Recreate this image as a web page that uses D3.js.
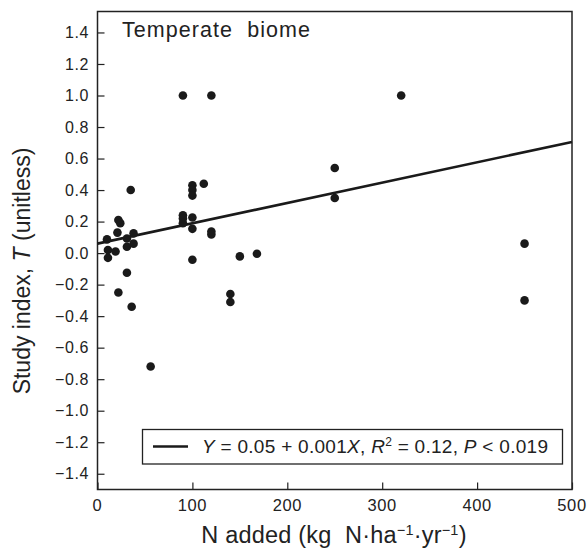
<!DOCTYPE html>
<html><head><meta charset="utf-8">
<script src="https://cdn.jsdelivr.net/npm/d3@7"></script>
<style>
body{margin:0;background:#fff;}
text{font-family:"Liberation Sans",Arial,Helvetica,sans-serif;fill:#222;}
</style></head>
<body><svg id="chart" width="588" height="548"></svg>
<script>
// Data
const nAdded = [35,22,24,21,38,10,31,38,31,11,19,11,31,22,36,56,
  90,120,100,112,100,100,90,90,90,100,100,120,120,100,150,168,140,140,
  320,250,250,450,450];
const studyIndex = [0.40,0.21,0.19,0.13,0.125,0.087,0.093,0.06,0.04,0.02,0.01,-0.03,-0.125,-0.25,-0.34,-0.72,
  1.0,1.0,0.43,0.44,0.40,0.365,0.24,0.22,0.19,0.226,0.154,0.137,0.118,-0.042,-0.021,-0.004,-0.26,-0.31,
  1.0,0.54,0.35,0.06,-0.30];
const fitX = [0,500];
const fitY = [0.06,0.705];
const xTicks = [0,100,200,300,400,500];
const yTicks = [1.4,1.2,1.0,0.8,0.6,0.4,0.2,0.0,-0.2,-0.4,-0.6,-0.8,-1.0,-1.2,-1.4];

const svg = d3.select("#chart");
const L=97.5, R=572, T=11.5, B=489.5;
const x = d3.scaleLinear().domain([0,500]).range([L,R]);
const y = d3.scaleLinear().domain([-1.5,1.533]).range([B,T]);
const ink="#222";

// frame
svg.append("rect").attr("x",L).attr("y",T).attr("width",R-L).attr("height",B-T)
  .attr("fill","none").attr("stroke",ink).attr("stroke-width",1.5);

// y axis
const fmtY = d => (d<0?"\u2212":"") + Math.abs(d).toFixed(1);
const ya = svg.append("g").attr("transform",`translate(${L},0)`)
  .call(d3.axisRight(y).tickValues(yTicks).tickSize(7).tickFormat(""));
ya.select(".domain").remove();
ya.selectAll("line").attr("stroke",ink).attr("stroke-width",1.2);
svg.append("g").selectAll("text").data(yTicks).join("text")
  .attr("x",89).attr("y",d=>y(d)+5.6).attr("text-anchor","end")
  .attr("font-size",16).attr("letter-spacing",0.6).text(fmtY);

// x axis
const xa = svg.append("g").attr("transform",`translate(0,${B})`)
  .call(d3.axisTop(x).tickValues(xTicks).tickSize(7).tickFormat(""));
xa.select(".domain").remove();
xa.selectAll("line").attr("stroke",ink).attr("stroke-width",1.2);
svg.append("g").selectAll("text").data(xTicks).join("text")
  .attr("x",d=>x(d)).attr("y",511).attr("text-anchor","middle")
  .attr("font-size",16.5).attr("letter-spacing",0.6).text(d=>d);

// fit line
svg.append("line").attr("x1",x(fitX[0])).attr("y1",y(fitY[0]))
  .attr("x2",x(fitX[1])).attr("y2",y(fitY[1]))
  .attr("stroke","#1a1a1a").attr("stroke-width",2.6);

// points
svg.append("g").selectAll("circle").data(nAdded.map((v,i)=>[v,studyIndex[i]])).join("circle")
  .attr("cx",d=>x(d[0])).attr("cy",d=>y(d[1])).attr("r",4.3).attr("fill","#1a1a1a");

// title
svg.append("text").attr("x",122).attr("y",37).attr("font-size",21.5)
  .attr("textLength",188).attr("lengthAdjust","spacing").text("Temperate\u00A0 biome");

// legend
svg.append("rect").attr("x",142.5).attr("y",429.5).attr("width",420).attr("height",34.5)
  .attr("fill","#fff").attr("stroke",ink).attr("stroke-width",1.3);
svg.append("line").attr("x1",153).attr("x2",188).attr("y1",446.5).attr("y2",446.5)
  .attr("stroke","#1a1a1a").attr("stroke-width",2.6);
const lt = svg.append("text").attr("x",202).attr("y",453).attr("font-size",19)
  .attr("textLength",346).attr("lengthAdjust","spacing");
lt.append("tspan").attr("font-style","italic").text("Y");
lt.append("tspan").text(" = 0.05 + 0.001");
lt.append("tspan").attr("font-style","italic").text("X");
lt.append("tspan").text(", ");
lt.append("tspan").attr("font-style","italic").text("R");
lt.append("tspan").attr("font-size",12).attr("dy",-7).text("2");
lt.append("tspan").attr("dy",7).text(" = 0.12, ");
lt.append("tspan").attr("font-style","italic").text("P");
lt.append("tspan").text(" < 0.019");

// x label
const xl = svg.append("text").attr("x",334).attr("y",543).attr("text-anchor","middle")
  .attr("font-size",23.5).attr("letter-spacing",0.2);
xl.append("tspan").text("N added (kg\u00A0 N\u00B7ha");
xl.append("tspan").attr("font-size",14.5).attr("dy",-8).text("\u22121");
xl.append("tspan").attr("dy",8).text("\u00B7yr");
xl.append("tspan").attr("font-size",14.5).attr("dy",-8).text("\u22121");
xl.append("tspan").attr("dy",8).text(")");

// y label
const yl = svg.append("text").attr("transform","translate(30,271) rotate(-90)")
  .attr("text-anchor","middle").attr("font-size",23);
yl.append("tspan").text("Study index, ");
yl.append("tspan").attr("font-style","italic").text("T");
yl.append("tspan").text(" (unitless)");
</script></body></html>
